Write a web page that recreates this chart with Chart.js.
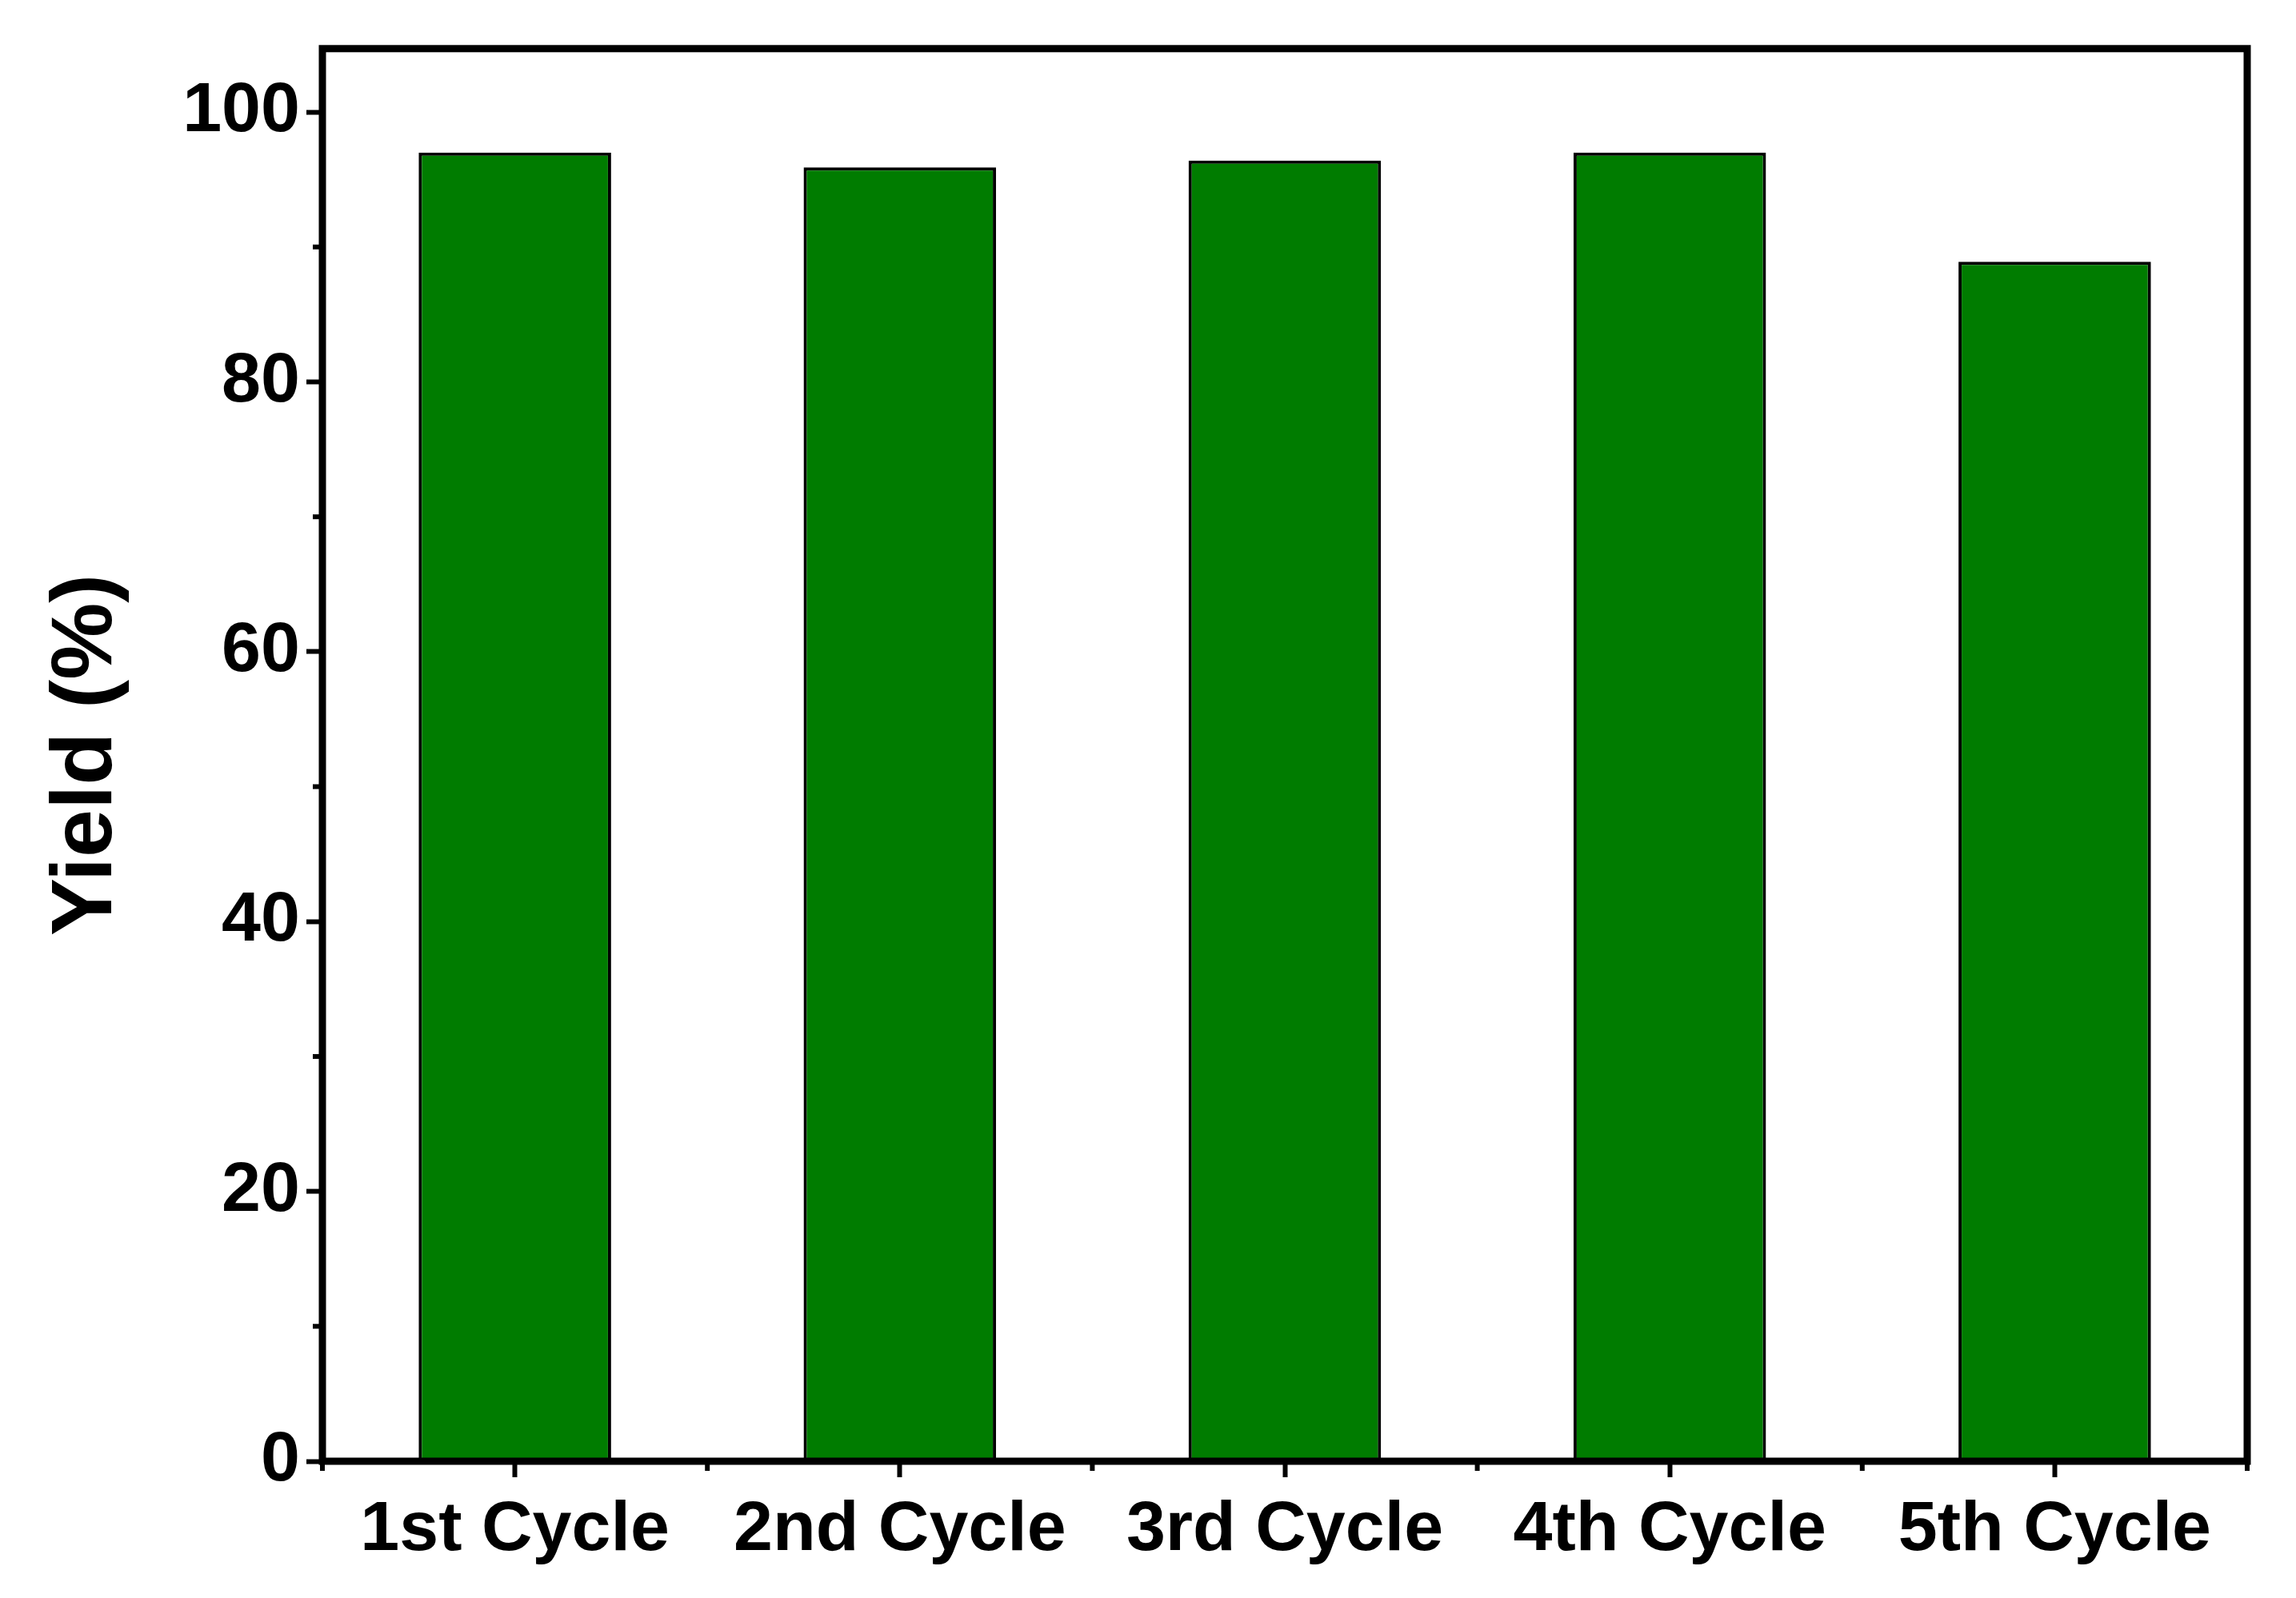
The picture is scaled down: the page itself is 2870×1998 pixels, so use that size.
<!DOCTYPE html>
<html><head><meta charset="utf-8">
<script src="https://cdn.jsdelivr.net/npm/chart.js@4/dist/chart.umd.min.js"></script>
<style>html,body{margin:0;padding:0;background:#fff}</style>
</head><body>
<canvas id="c" width="2870" height="1998" style="width:2870px;height:1998px"></canvas>
<script>
const categories = ['1st Cycle','2nd Cycle','3rd Cycle','4th Cycle','5th Cycle'];
const yieldValues = [97.0, 95.9, 96.4, 97.0, 88.9];
const yTicks = [0,20,40,60,80,100];
const yMinorTicks = [10,30,50,70,90];

const frame = {
  id:'frame',
  afterDraw(chart){
    const {ctx, chartArea:a, scales:{x,y}} = chart;
    ctx.save();
    ctx.strokeStyle='#000'; ctx.lineWidth=9;
    ctx.strokeRect(a.left,a.top,a.right-a.left,a.bottom-a.top);
    ctx.lineWidth=6;
    yMinorTicks.forEach(v=>{const p=y.getPixelForValue(v);ctx.beginPath();ctx.moveTo(a.left,p);ctx.lineTo(a.left-12,p);ctx.stroke();});
    for(let i=0;i<=categories.length;i++){
      const p = x.getPixelForValue(i-0.5);
      ctx.beginPath();ctx.moveTo(p,a.bottom);ctx.lineTo(p,a.bottom+12);ctx.stroke();
    }
    ctx.restore();
  }
};

new Chart(document.getElementById('c'),{
  type:'bar',
  data:{labels:categories,datasets:[{data:yieldValues,backgroundColor:'#007c00',borderColor:'#000',borderWidth:4,categoryPercentage:1,barPercentage:0.5}]},
  options:{
    responsive:false,animation:false,
    layout:{padding:{top:59,right:61,left:40,bottom:0}},
    plugins:{legend:{display:false},tooltip:{enabled:false}},
    scales:{
      x:{offset:true,
        grid:{offset:false,drawOnChartArea:false,tickLength:20,tickWidth:6,tickColor:'#000'},
        border:{display:false},
        ticks:{color:'#000',font:{family:'Liberation Sans',weight:'bold',size:88},padding:14,maxRotation:0},
        afterFit(s){s.height=171;}
      },
      y:{min:0,max:104.7,
        afterBuildTicks(s){s.ticks=yTicks.map(v=>({value:v}));},
        grid:{drawOnChartArea:false,tickLength:20,tickWidth:6,tickColor:'#000'},
        border:{display:false},
        ticks:{color:'#000',font:{family:'Liberation Sans',weight:'bold',size:88},padding:8},
        title:{display:true,text:'Yield (%)',color:'#000',font:{family:'Liberation Sans',weight:'bold',size:108},padding:{bottom:0}},
        afterFit(s){s.width=363;}
      }
    }
  },
  plugins:[frame]
});
</script>
</body></html>
